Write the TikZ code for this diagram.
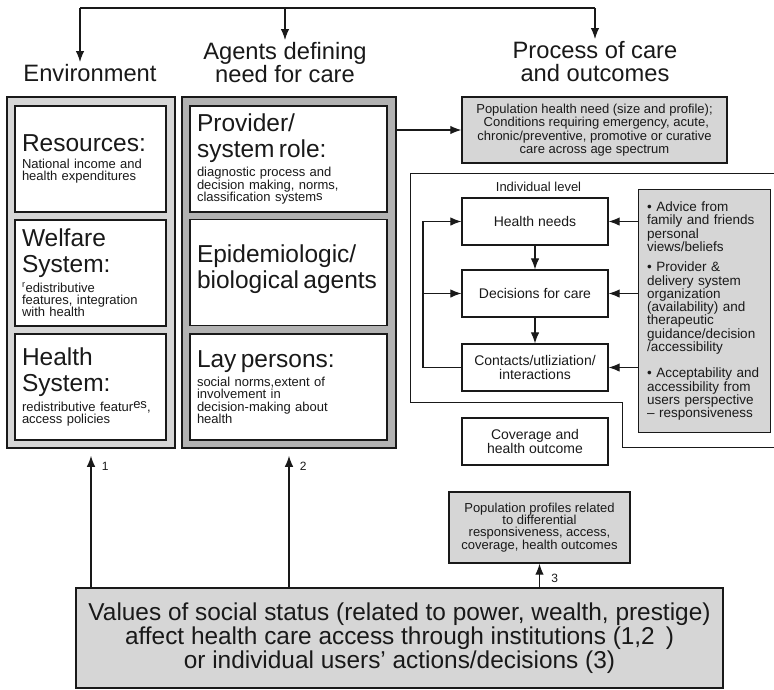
\documentclass[tikz,border=0pt]{standalone}
\usepackage{fontspec}
\setmainfont{Liberation Sans}
\usepackage{tikz}
\usetikzlibrary{shapes,arrows.meta,positioning}

\definecolor{ink}{gray}{0.1}
\definecolor{envgray}{gray}{0.84}
\definecolor{agentgray}{gray}{0.7}
\definecolor{notegray}{gray}{0.84}

\newcommand{\headfont}{\fontsize{23.7}{22.5}\selectfont}
\newcommand{\titlefont}{\fontsize{24.5}{26}\selectfont}
\newcommand{\descfont}{\fontsize{13}{12.3}\selectfont}
\newcommand{\notefont}{\fontsize{13}{13.3}\selectfont}
\newcommand{\levelfont}{\fontsize{14}{14}\selectfont}
\newcommand{\valuefont}{\fontsize{24.4}{24}\selectfont}
\newcommand{\boxtitle}[1]{{\titlefont #1\par}\vspace{4pt}}

\tikzstyle{heading} = [align=center, font=\headfont, inner sep=2pt]
\tikzstyle{pane} = [draw=ink, line width=1.6pt, inner sep=0pt]
\tikzstyle{factor} = [draw=ink, fill=white, line width=1.3pt, inner xsep=7pt, inner ysep=0pt, align=left, font=\descfont, minimum height=106pt]
\tikzstyle{notebox} = [draw=ink, fill=notegray, line width=1.4pt, align=center, font=\notefont]
\tikzstyle{levelbox} = [draw=ink, line width=1.2pt, minimum width=146pt, minimum height=47pt, align=center, font=\levelfont]
\tikzstyle{numlabel} = [font=\fontsize{12}{12}\selectfont, text=ink]
\tikzstyle{flow} = [-{Latex[length=11pt,width=8.5pt]}]

\begin{document}
\begin{tikzpicture}[x=1pt, y=-1pt, line width=1.1pt, draw=ink, text=ink]
		\useasboundingbox (0,0) rectangle (774,689);

		% column headings and the bracket above them
		\node [heading, anchor=north] (environment) at (90,62) {Environment};
		\node [heading, anchor=north] (agents) at (285,40) {Agents defining\\need for care};
		\node [heading, anchor=north] (processes) at (595,39) {Process of care\\and outcomes};
		\coordinate (envtip) at ([xshift=-10pt]environment.north);
		\coordinate (bar) at (0,8);
		\draw (envtip |- bar) -- (processes.north |- bar);
		\draw [flow] (envtip |- bar) -- (envtip);
		\draw [flow] (agents.north |- bar) -- (agents.north);
		\draw [flow] (processes.north |- bar) -- (processes.north);

		% environment column
		\node [pane, fill=envgray, minimum width=168pt, minimum height=351pt] (envbox) at (91,272.5) {};
		\node [factor, text width=137pt] (resources) at (90.5,159) {\boxtitle{Resources:}National income and\\health expenditures};
		\node [factor, text width=137pt, below of=resources, node distance=114pt] (welfare) {\boxtitle{Welfare\\System:}\textsuperscript{r}edistributive\\features, integration\\with health};
		\node [factor, text width=137pt, below of=welfare, node distance=114pt] (healthsys) {\boxtitle{Health\\System:}redistributive featur\raisebox{3pt}{es},\\access policies};

		% agents column
		\node [pane, fill=agentgray, minimum width=214pt, minimum height=351pt] (agentsbox) at (289,272.5) {};
		\node [factor, text width=183pt] (provider) at (288.5,159) {\boxtitle{Provider/\\system role:}diagnostic process and\\decision making, norms,\\[0.5pt]classification system\raisebox{1.8pt}{s}};
		\node [factor, text width=183pt, below of=provider, node distance=113.5pt] (epidem) {{\titlefont Epidemiologic/\\biological agents\par}\vspace{6pt}};
		\node [factor, text width=183pt, below of=epidem, node distance=114.5pt] (laypersons) {\boxtitle{Lay persons:}social norms,extent of\\involvement in\\decision-making about\\health};

		% population level need
		\node [notebox, minimum width=265pt, minimum height=66pt] (popneed) at (594.5,130) {Population health need (size and profile);\\ \ Conditions requiring emergency, acute,\\chronic/preventive, promotive or curative\\care across age spectrum};
		\draw [flow] (agentsbox.east |- popneed) -- (popneed.west);

		% individual level frame
		\draw [line width=0.9pt] (774,173) -- (410,173) -- (410,402) -- (622,402) -- (622,447) -- (774,447);
		\node [anchor=base west, font=\notefont] (indlabel) at (492,191) {Individual level};

		\node [levelbox] (healthneeds) at (535,221.5) {Health needs};
		\node [levelbox, below of=healthneeds, node distance=72pt] (decisions) {Decisions for care};
		\node [levelbox, below of=decisions, node distance=74pt] (contacts) {Contacts/utliziation/\\interactions};
		\node [levelbox, below of=contacts, node distance=74pt] (coverage) {Coverage and\\health outcome};

		\draw [flow] (healthneeds) -- (decisions);
		\draw [flow] (decisions) -- (contacts);
		\coordinate (loopx) at (423,0);
		\draw [flow] (contacts.west) -- (contacts.west -| loopx) |- (healthneeds.west);
		\draw [flow] (decisions.west -| loopx) -- (decisions.west);

		% influences on individual decisions
		\node [notebox, anchor=north west, align=left, font=\fontsize{13.5}{13.3}\selectfont, text width=115pt, inner xsep=8.5pt, minimum height=243pt] (influences) at (638,189) {• Advice from\\family and friends\\personal\\views/beliefs\\[7pt]• Provider \&\\delivery system\\organization\\(availability) and\\therapeutic\\guidance/decision\\/accessibility\\[13pt]• Acceptability and\\accessibility from\\users perspective\\– responsiveness};
		\draw [flow] (influences.west |- healthneeds) -- (healthneeds.east);
		\draw [flow] (influences.west |- decisions) -- (decisions.east);
		\draw [flow] (influences.west |- contacts) -- (contacts.east);

		% population profiles and social status
		\node [notebox, minimum width=181pt, minimum height=71pt, font=\fontsize{13}{12.2}\selectfont] (profiles) at (539.5,527.5) {Population profiles related\\to differential\\responsiveness, access,\\coverage, health outcomes};
		\node [notebox, line width=1.6pt, minimum width=647pt, minimum height=100pt, font=\valuefont] (socialbox) at (399.5,638) {Values of social status (related to power, wealth, prestige)\\affect health care access through institutions (1,2\hspace{0.45em})\\or individual users’ actions/decisions (3)};

		\draw [flow, shorten >=7pt] (socialbox.north -| envbox.south) -- node[numlabel, pos=0.87, right=7pt] {1} (envbox.south);
		\draw [flow, shorten >=7pt] (socialbox.north -| agentsbox.south) -- node[numlabel, pos=0.87, right=7pt] {2} (agentsbox.south);
		\draw [flow] (socialbox.north -| profiles.south) -- node[numlabel, pos=0.36, right=8pt] {3} (profiles.south);
\end{tikzpicture}
\end{document}
